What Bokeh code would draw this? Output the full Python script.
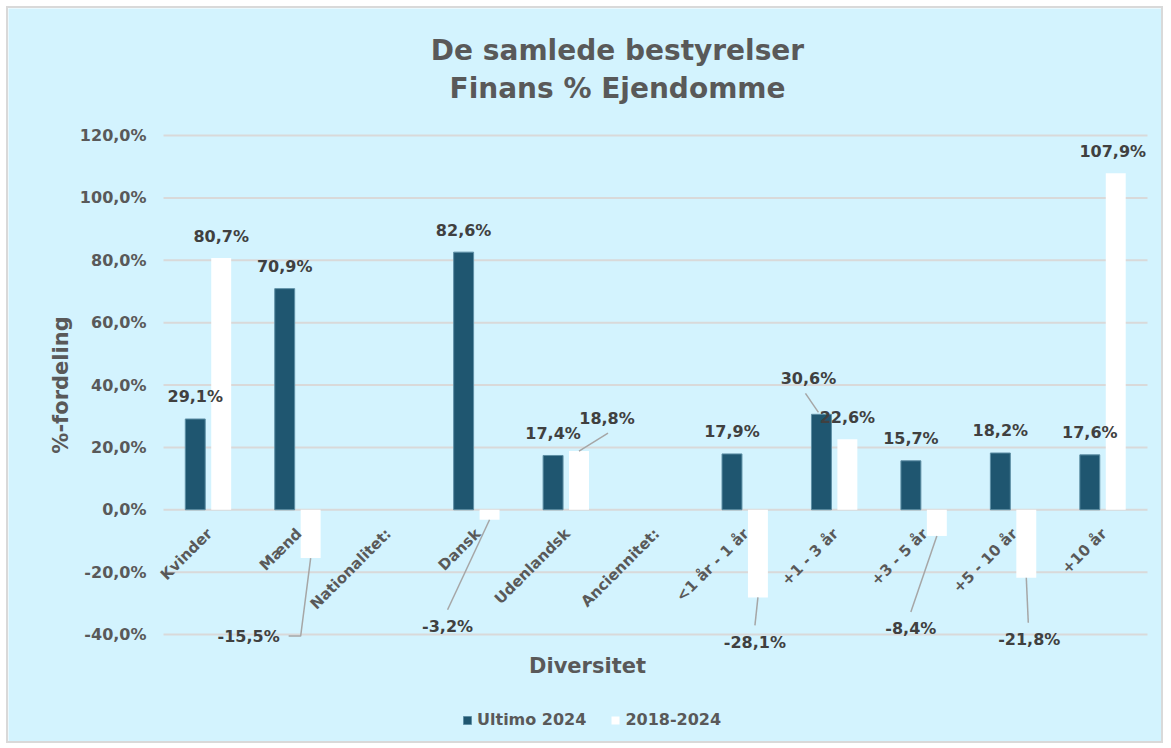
import math
from bokeh.plotting import figure
from bokeh.models import Range1d, Legend, LegendItem, ColumnDataSource
from bokeh.core.properties import value
from bokeh.embed import file_html
from bokeh.resources import INLINE

# ---------------- data ----------------
categories = ["Kvinder", "Mænd", "Nationalitet:", "Dansk", "Udenlandsk",
              "Anciennitet:", "<1 år - 1 år", "+1 - 3 år", "+3 - 5 år",
              "+5 - 10 år", "+10 år"]
ultimo_2024 = [29.1, 70.9, None, 82.6, 17.4, None, 17.9, 30.6, 15.7, 18.2, 17.6]
change_2018_2024 = [80.7, -15.5, None, -3.2, 18.8, None, -28.1, 22.6, -8.4, -21.8, 107.9]
series_names = ["Ultimo 2024", "2018-2024"]
y_ticks = [-40, -20, 0, 20, 40, 60, 80, 100, 120]
y_tick_labels = ["-40,0%", "-20,0%", "0,0%", "20,0%", "40,0%", "60,0%", "80,0%", "100,0%", "120,0%"]
title_lines = ["De samlede bestyrelser", "Finans % Ejendomme"]
x_title = "Diversitet"
y_title = "%-fordeling"

# ---------------- style ----------------
FONT = "DejaVu Sans"
BG = "#D3F3FE"
DARK = "#1F5670"
WHITE = "#FFFFFF"
GRID = "#D9D9D9"
TXT = "#595959"
LBL = "#404040"
LEAD = "#A6A6A6"

# canvas geometry (canvas origin at page pixel 8,8 : 6px margin + 2px border)
OX, OY = 8, 8
W, H = 1157, 737
PLOT_L, PLOT_R = 163, 1147      # page px of category span
PLOT_T, PLOT_B = 135, 634       # page px of 120% / -40%
YMIN, YMAX = -40, 120
NX = len(categories)
PX_X = (PLOT_R - PLOT_L) / NX
PX_Y = (PLOT_B - PLOT_T) / (YMAX - YMIN)


def dx(px):
    return (px - PLOT_L) / PX_X


def dy(py):
    return YMIN + (PLOT_B - py) / PX_Y


DODGE = 0.145
BAR_W = 0.223

# label offsets in pixels (dx right, dy down) relative to bar end, and leader paths
label_offsets = {
    (1, 1): (-62, 78), (1, 3): (-42, 107), (1, 4): (28, -33), (1, 6): (-3, 45),
    (0, 7): (-13, -36), (1, 8): (-26, 93), (1, 9): (3, 62), (1, 10): (-3, -22),
}
leader_paths = {
    (1, 1): [(0, 0), (-10, 78), (-22, 78)],
    (1, 3): [(0, 0), (-42, 90)],
    (1, 4): [(0, 0), (29, -18)],
    (1, 6): [(0, 0), (-3, 28)],
    (0, 7): [(-3, -2), (-16, -21)],
    (1, 8): [(0, 0), (-26, 76)],
    (1, 9): [(0, 0), (2, 45)],
}

p = figure(width=W, height=H,
           x_range=Range1d(dx(OX), dx(OX + W)), y_range=Range1d(dy(OY + H), dy(OY)),
           output_backend="svg", toolbar_location=None,
           min_border_left=0, min_border_right=0, min_border_top=0, min_border_bottom=0)
p.styles = {"margin": "6px", "border": "2px solid #D9D9D9"}
p.background_fill_color = BG
p.border_fill_color = BG
p.outline_line_color = None

p.xaxis.visible = False
p.yaxis.visible = False
p.xgrid.visible = False
p.ygrid.visible = False

# grid lines across the category span only
p.segment(x0=[0] * len(y_ticks), x1=[NX] * len(y_ticks), y0=y_ticks, y1=y_ticks,
          line_color=GRID, line_width=2)
# value-axis tick labels
p.text(x=[dx(146)] * len(y_ticks), y=y_ticks, text=y_tick_labels,
       text_align="right", text_baseline="middle",
       text_font=value(FONT), text_font_style="bold", text_font_size="16px",
       text_color=TXT)

series = [ultimo_2024, change_2018_2024]
colors = [DARK, WHITE]
renderers = []
for s, vals in enumerate(series):
    xs, tops = [], []
    for i, v in enumerate(vals):
        if v is None:
            continue
        xs.append(i + 0.5 + (DODGE if s else -DODGE))
        tops.append(v)
    src = ColumnDataSource(dict(x=xs, top=tops))
    r = p.vbar(x="x", top="top", bottom=0, width=BAR_W, source=src,
               fill_color=colors[s],
               line_color="#5E8FA5" if s == 0 else None, line_width=1)
    renderers.append(r)

# data labels
lx, ly, ltxt, lxo, lyo = [], [], [], [], []
mxs, mys = [], []
for s, vals in enumerate(series):
    for i, v in enumerate(vals):
        if v is None:
            continue
        bx = i + 0.5 + (DODGE if s else -DODGE)
        ox, oy = label_offsets.get((s, i), (0, -22 if v >= 0 else 22))
        lx.append(bx); ly.append(v)
        lxo.append(ox); lyo.append(oy)
        ltxt.append(f"{v:.1f}".replace(".", ",") + "%")
        if (s, i) in leader_paths:
            pts = leader_paths[(s, i)]
            mxs.append([bx + px / PX_X for px, py in pts])
            mys.append([v - py / PX_Y for px, py in pts])

p.multi_line(xs=mxs, ys=mys, line_color=LEAD, line_width=1.5)
p.text(x=lx, y=ly, text=ltxt, x_offset=lxo, y_offset=lyo,
       text_align="center", text_baseline="middle",
       text_font=value(FONT), text_font_style="bold", text_font_size="16px",
       text_color=LBL)

# category labels at the zero line
p.text(x=[i + 0.5 for i in range(NX)], y=[0] * NX, text=categories,
       angle=math.pi / 4, text_align="right", text_baseline="top",
       x_offset=-5, y_offset=15,
       text_font=value(FONT), text_font_style="bold", text_font_size="15px",
       text_color=TXT)

# titles (as text in the plot's own coordinates)
p.text(x=[dx(617)] * 2, y=[dy(50), dy(88)], text=title_lines,
       text_align="center", text_baseline="middle",
       text_font=value(FONT), text_font_style="bold", text_font_size="28px",
       text_color=TXT)
p.text(x=[dx(587)], y=[dy(665)], text=[x_title],
       text_align="center", text_baseline="middle",
       text_font=value(FONT), text_font_style="bold", text_font_size="21px",
       text_color=TXT)
p.text(x=[dx(60)], y=[(YMAX + YMIN) / 2], text=[y_title], angle=math.pi / 2,
       text_align="center", text_baseline="middle",
       text_font=value(FONT), text_font_style="bold", text_font_size="21px",
       text_color=TXT)

legend = Legend(items=[LegendItem(label=series_names[k], renderers=[renderers[k]]) for k in range(2)],
                location=(462 - OX, (OY + H) - 729), orientation="horizontal",
                background_fill_alpha=0, border_line_color=None,
                glyph_width=10, glyph_height=10, label_standoff=5, spacing=24,
                padding=0, margin=0,
                label_text_font=FONT, label_text_font_style="bold",
                label_text_font_size="16px", label_text_color=TXT)
p.add_layout(legend, "center")

open("out.html", "w").write(file_html(p, INLINE))
